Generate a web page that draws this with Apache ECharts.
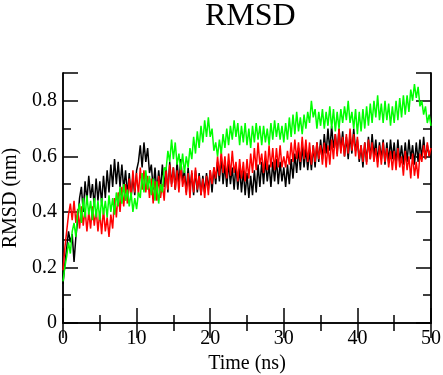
<!DOCTYPE html>
<html>
<head>
<meta charset="utf-8">
<script src="https://cdn.jsdelivr.net/npm/echarts@6/dist/echarts.min.js"></script>
<style>html,body{margin:0;padding:0;background:#fff}#c{width:443px;height:375px}</style>
</head>
<body>
<div id="c"></div>
<script>
const title = 'RMSD';
const xName = 'Time (ns)';
const yName = 'RMSD (nm)';
const timeStep = 0.25; // ns between samples
const xTicks = [0, 10, 20, 30, 40, 50];
const yTicks = [0, 0.2, 0.4, 0.6, 0.8];

const blackValues = [
0.14,0.21,0.27,0.33,0.29,0.32,0.22,0.31,0.37,0.45,0.49,0.40,0.51,0.44,0.53,0.45,0.50,0.42,0.52,0.44,
0.51,0.43,0.53,0.45,0.55,0.47,0.57,0.49,0.59,0.50,0.58,0.49,0.57,0.48,0.55,0.46,0.54,0.45,0.53,0.46,
0.55,0.58,0.64,0.56,0.65,0.58,0.63,0.54,0.57,0.48,0.56,0.47,0.55,0.48,0.57,0.49,0.56,0.47,0.58,0.50,
0.56,0.48,0.58,0.50,0.59,0.51,0.55,0.47,0.56,0.48,0.54,0.46,0.55,0.47,0.54,0.46,0.53,0.47,0.54,0.48,
0.55,0.47,0.56,0.50,0.58,0.51,0.60,0.50,0.57,0.49,0.58,0.50,0.56,0.48,0.57,0.48,0.56,0.47,0.55,0.46,
0.54,0.45,0.53,0.46,0.55,0.47,0.57,0.49,0.58,0.50,0.59,0.51,0.57,0.49,0.58,0.51,0.59,0.50,0.58,0.51,
0.56,0.49,0.57,0.50,0.59,0.52,0.61,0.54,0.63,0.55,0.64,0.56,0.63,0.55,0.62,0.55,0.64,0.56,0.65,0.58,
0.66,0.59,0.68,0.61,0.70,0.62,0.71,0.63,0.68,0.61,0.70,0.62,0.69,0.60,0.67,0.59,0.68,0.61,0.70,0.62,
0.66,0.58,0.64,0.56,0.65,0.58,0.67,0.59,0.68,0.60,0.66,0.58,0.65,0.59,0.66,0.57,0.65,0.58,0.66,0.59,
0.65,0.57,0.66,0.58,0.64,0.57,0.65,0.58,0.66,0.59,0.64,0.57,0.65,0.58,0.66,0.59,0.67,0.59,0.64,0.60,
0.63];

const redValues = [
0.19,0.27,0.33,0.39,0.43,0.37,0.44,0.36,0.41,0.34,0.42,0.35,0.41,0.33,0.40,0.34,0.42,0.35,0.41,0.33,
0.40,0.32,0.41,0.33,0.38,0.31,0.39,0.34,0.45,0.38,0.47,0.40,0.49,0.42,0.50,0.43,0.52,0.45,0.55,0.47,
0.54,0.46,0.56,0.48,0.55,0.47,0.53,0.45,0.52,0.43,0.51,0.44,0.53,0.45,0.50,0.44,0.55,0.48,0.57,0.49,
0.56,0.48,0.55,0.47,0.57,0.49,0.53,0.46,0.54,0.45,0.55,0.47,0.56,0.48,0.53,0.46,0.52,0.45,0.53,0.46,
0.55,0.50,0.56,0.52,0.60,0.53,0.62,0.54,0.60,0.52,0.61,0.53,0.62,0.54,0.58,0.51,0.59,0.52,0.58,0.51,
0.59,0.52,0.61,0.54,0.63,0.55,0.65,0.57,0.61,0.54,0.62,0.55,0.64,0.56,0.63,0.55,0.63,0.56,0.64,0.56,
0.60,0.56,0.62,0.57,0.65,0.58,0.66,0.59,0.65,0.58,0.67,0.59,0.66,0.58,0.65,0.57,0.64,0.58,0.65,0.59,
0.64,0.57,0.65,0.56,0.64,0.57,0.66,0.59,0.68,0.60,0.70,0.61,0.67,0.60,0.68,0.61,0.70,0.62,0.68,0.60,
0.67,0.59,0.64,0.58,0.65,0.57,0.66,0.59,0.65,0.58,0.63,0.56,0.64,0.57,0.65,0.58,0.63,0.56,0.62,0.55,
0.62,0.55,0.63,0.56,0.60,0.53,0.62,0.55,0.60,0.52,0.61,0.53,0.58,0.52,0.61,0.58,0.64,0.59,0.65,0.60,
0.63];

const greenValues = [
0.15,0.20,0.24,0.29,0.25,0.33,0.36,0.31,0.40,0.43,0.36,0.45,0.38,0.46,0.39,0.44,0.37,0.45,0.38,0.44,
0.37,0.45,0.39,0.44,0.38,0.46,0.40,0.45,0.39,0.47,0.42,0.49,0.43,0.50,0.44,0.48,0.42,0.47,0.40,0.45,
0.41,0.47,0.45,0.54,0.47,0.55,0.48,0.53,0.46,0.52,0.44,0.51,0.43,0.50,0.47,0.56,0.55,0.62,0.58,0.66,
0.59,0.65,0.57,0.61,0.55,0.61,0.54,0.60,0.56,0.63,0.59,0.67,0.61,0.69,0.63,0.71,0.65,0.73,0.67,0.74,
0.67,0.70,0.62,0.65,0.60,0.66,0.61,0.68,0.63,0.70,0.64,0.71,0.66,0.73,0.67,0.72,0.64,0.71,0.65,0.72,
0.64,0.70,0.63,0.71,0.65,0.72,0.66,0.71,0.64,0.71,0.65,0.70,0.64,0.72,0.66,0.73,0.67,0.72,0.66,0.71,
0.65,0.72,0.66,0.74,0.67,0.75,0.68,0.76,0.69,0.74,0.68,0.75,0.70,0.76,0.72,0.80,0.74,0.77,0.70,0.76,
0.71,0.77,0.70,0.76,0.71,0.78,0.70,0.77,0.69,0.76,0.70,0.77,0.72,0.78,0.73,0.80,0.72,0.76,0.70,0.77,
0.68,0.76,0.69,0.77,0.70,0.78,0.71,0.79,0.72,0.80,0.74,0.82,0.73,0.79,0.72,0.80,0.73,0.79,0.71,0.78,
0.72,0.80,0.73,0.81,0.74,0.82,0.75,0.82,0.76,0.84,0.80,0.86,0.81,0.85,0.78,0.80,0.75,0.78,0.72,0.75,
0.71];

function toPairs(vals) { return vals.map((v, i) => [i * timeStep, v]); }

const FONT = '"Liberation Serif", "DejaVu Serif", serif';
const chart = echarts.init(document.getElementById('c'), null, {renderer: 'canvas'});
const lineStyle = {color: '#000', width: 1.5};
const lbl = {fontFamily: FONT, fontSize: 20, color: '#000'};

chart.setOption({
  animation: false,
  backgroundColor: '#fff',
  title: {text: title, top: -4, left: 200,
    textStyle: {fontFamily: FONT, fontSize: 32, fontWeight: 'normal', color: '#000'}},
  grid: {left: 63, right: 12, top: 73, bottom: 52, containLabel: false, outerBoundsMode: 'none'},
  xAxis: [
    {type: 'value', position: 'bottom', min: 0, max: 50, interval: 10,
     name: xName, nameLocation: 'middle', nameGap: 28, nameTextStyle: lbl,
     axisLine: {show: true, lineStyle: lineStyle},
     axisTick: {show: true, inside: true, length: 15, lineStyle: lineStyle},
     minorTick: {show: true, splitNumber: 2, length: 8, lineStyle: lineStyle},
     axisLabel: Object.assign({margin: 6, formatter: v => xTicks.includes(v) ? String(v) : ''}, lbl),
     splitLine: {show: false}},
    {type: 'value', position: 'top', min: 0, max: 50, interval: 10,
     axisLine: {show: true, lineStyle: lineStyle},
     axisTick: {show: true, inside: true, length: 15, lineStyle: lineStyle},
     minorTick: {show: true, splitNumber: 2, length: 8, lineStyle: lineStyle},
     axisLabel: {show: false}, splitLine: {show: false}}
  ],
  yAxis: [
    {type: 'value', position: 'left', min: 0, max: 0.9, interval: 0.1,
     axisLine: {show: true, lineStyle: lineStyle},
     axisTick: {show: true, inside: true, length: 8, lineStyle: lineStyle},
     axisLabel: {show: false}, splitLine: {show: false}},
    {type: 'value', position: 'left', min: 0, max: 0.9, interval: 0.2,
     name: yName, nameLocation: 'middle', nameGap: 42, nameTextStyle: lbl,
     axisLine: {show: true, lineStyle: lineStyle},
     axisTick: {show: true, inside: true, length: 15, lineStyle: lineStyle},
     axisLabel: Object.assign({margin: 6, formatter: v => {
       const m = yTicks.find(t => Math.abs(t - v) < 1e-6);
       return m === undefined ? '' : String(m);
     }}, lbl),
     splitLine: {show: false}},
    {type: 'value', position: 'right', min: 0, max: 0.9, interval: 0.1,
     axisLine: {show: true, lineStyle: lineStyle},
     axisTick: {show: true, inside: true, length: 8, lineStyle: lineStyle},
     axisLabel: {show: false}, splitLine: {show: false}},
    {type: 'value', position: 'right', min: 0, max: 0.9, interval: 0.2,
     axisLine: {show: true, lineStyle: lineStyle},
     axisTick: {show: true, inside: true, length: 15, lineStyle: lineStyle},
     axisLabel: {show: false}, splitLine: {show: false}}
  ],
  series: [
    {type: 'line', name: 'black', data: toPairs(blackValues), showSymbol: false, symbol: 'none',
     lineStyle: {color: '#000000', width: 1.5}, itemStyle: {color: '#000000'}},
    {type: 'line', name: 'red', data: toPairs(redValues), showSymbol: false, symbol: 'none',
     lineStyle: {color: '#ff0000', width: 1.5}, itemStyle: {color: '#ff0000'}},
    {type: 'line', name: 'green', data: toPairs(greenValues), showSymbol: false, symbol: 'none',
     lineStyle: {color: '#00ff00', width: 1.5}, itemStyle: {color: '#00ff00'}}
  ]
});
</script>
</body>
</html>
